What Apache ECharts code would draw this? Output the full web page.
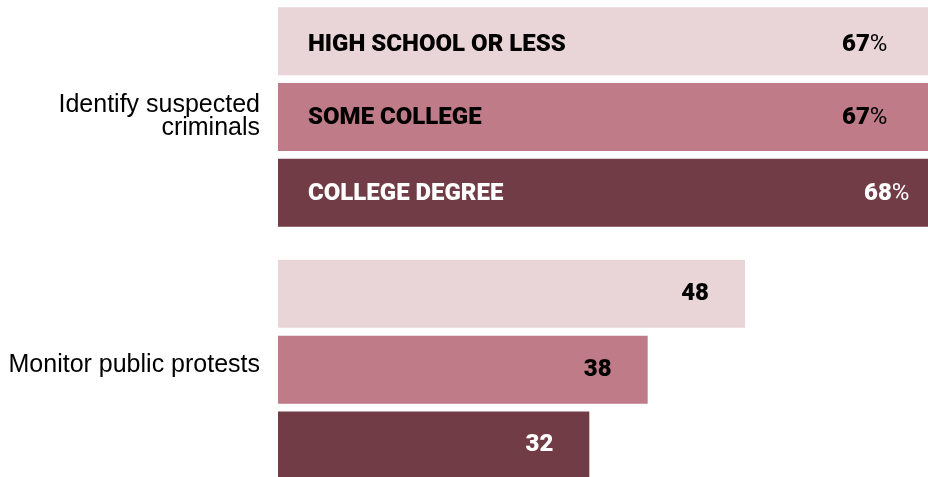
<!DOCTYPE html>
<html>
<head>
<meta charset="utf-8">
<script src="https://cdn.jsdelivr.net/npm/echarts@6/dist/echarts.min.js"></script>
<style>
  html, body { margin: 0; padding: 0; background: #ffffff; }
  #chart { width: 928px; height: 477px; }
</style>
</head>
<body>
<div id="chart"></div>
<script>
// Uses of facial recognition, by education level (%)
const categories = ['Identify suspected\ncriminals', 'Monitor public protests'];
const groupNames = ['HIGH SCHOOL OR LESS', 'SOME COLLEGE', 'COLLEGE DEGREE'];
const highSchoolOrLess = [67, 48];
const someCollege = [67, 38];
const collegeDegree = [68, 32];

const seriesValues = [highSchoolOrLess, someCollege, collegeDegree];
const barColors = ['#e9d4d8', '#bf7c88', '#723c47'];
const textColors = ['#000000', '#000000', '#ffffff'];
// width reserved for the group name so the value lands near the bar end
const nameWidths = [534, 534, 556];
const nameOffsets = [[0, 4], [0, 1], [0, 1]];
const valueDistance = [36, 36, 36];

const LABEL_FONT = 'Roboto, "Liberation Sans", Arial, sans-serif';
const HEAVY = 900;

function makeSeries(idx) {
  const vals = seriesValues[idx];
  const color = textColors[idx];
  const data = vals.map((v, i) => {
    if (i === 0) {
      return {
        value: v,
        label: {
          show: true,
          position: 'insideLeft',
          distance: 30,
          offset: nameOffsets[idx],
          formatter: '{n|' + groupNames[idx] + '}{v|' + v + '}{p|%}',
          rich: {
            n: { width: nameWidths[idx], fontFamily: LABEL_FONT, fontWeight: HEAVY, fontSize: 24, color: color },
            v: { fontFamily: LABEL_FONT, fontWeight: HEAVY, fontSize: 24, color: color },
            p: { fontFamily: LABEL_FONT, fontWeight: 'normal', fontSize: 24, color: color }
          }
        }
      };
    }
    return {
      value: v,
      label: {
        show: true,
        position: 'insideRight',
        distance: valueDistance[idx],
        formatter: '{c}',
        fontFamily: LABEL_FONT,
        fontWeight: HEAVY,
        fontSize: 24,
        color: color
      }
    };
  });
  return {
    type: 'bar',
    name: groupNames[idx],
    data: data,
    barWidth: 68,
    barGap: '11.5%',
    itemStyle: { color: barColors[idx] },
    emphasis: { disabled: true },
    animation: false
  };
}

const chart = echarts.init(document.getElementById('chart'), null, { renderer: 'canvas' });
chart.setOption({
  animation: false,
  grid: {
    left: 278, top: -9.4, width: 681, height: 505.4,
    containLabel: false,
    outerBoundsMode: 'none'
  },
  xAxis: {
    type: 'value',
    min: 0,
    max: 70,
    show: false
  },
  yAxis: {
    type: 'category',
    data: categories,
    inverse: true,
    axisLine: { show: false },
    axisTick: { show: false },
    splitLine: { show: false },
    axisLabel: {
      margin: 18,
      fontFamily: '"Liberation Sans", Arial, sans-serif',
      fontSize: 25,
      lineHeight: 23,
      color: '#000000',
      align: 'right',
      formatter: function (value, index) {
        return index === 1 ? '{up|' + value + '}' : value;
      },
      rich: {
        up: {
          fontFamily: '"Liberation Sans", Arial, sans-serif',
          fontSize: 25,
          color: '#000000',
          padding: [0, 0, 10, 0]
        }
      }
    }
  },
  series: [makeSeries(0), makeSeries(1), makeSeries(2)]
});
</script>
</body>
</html>
